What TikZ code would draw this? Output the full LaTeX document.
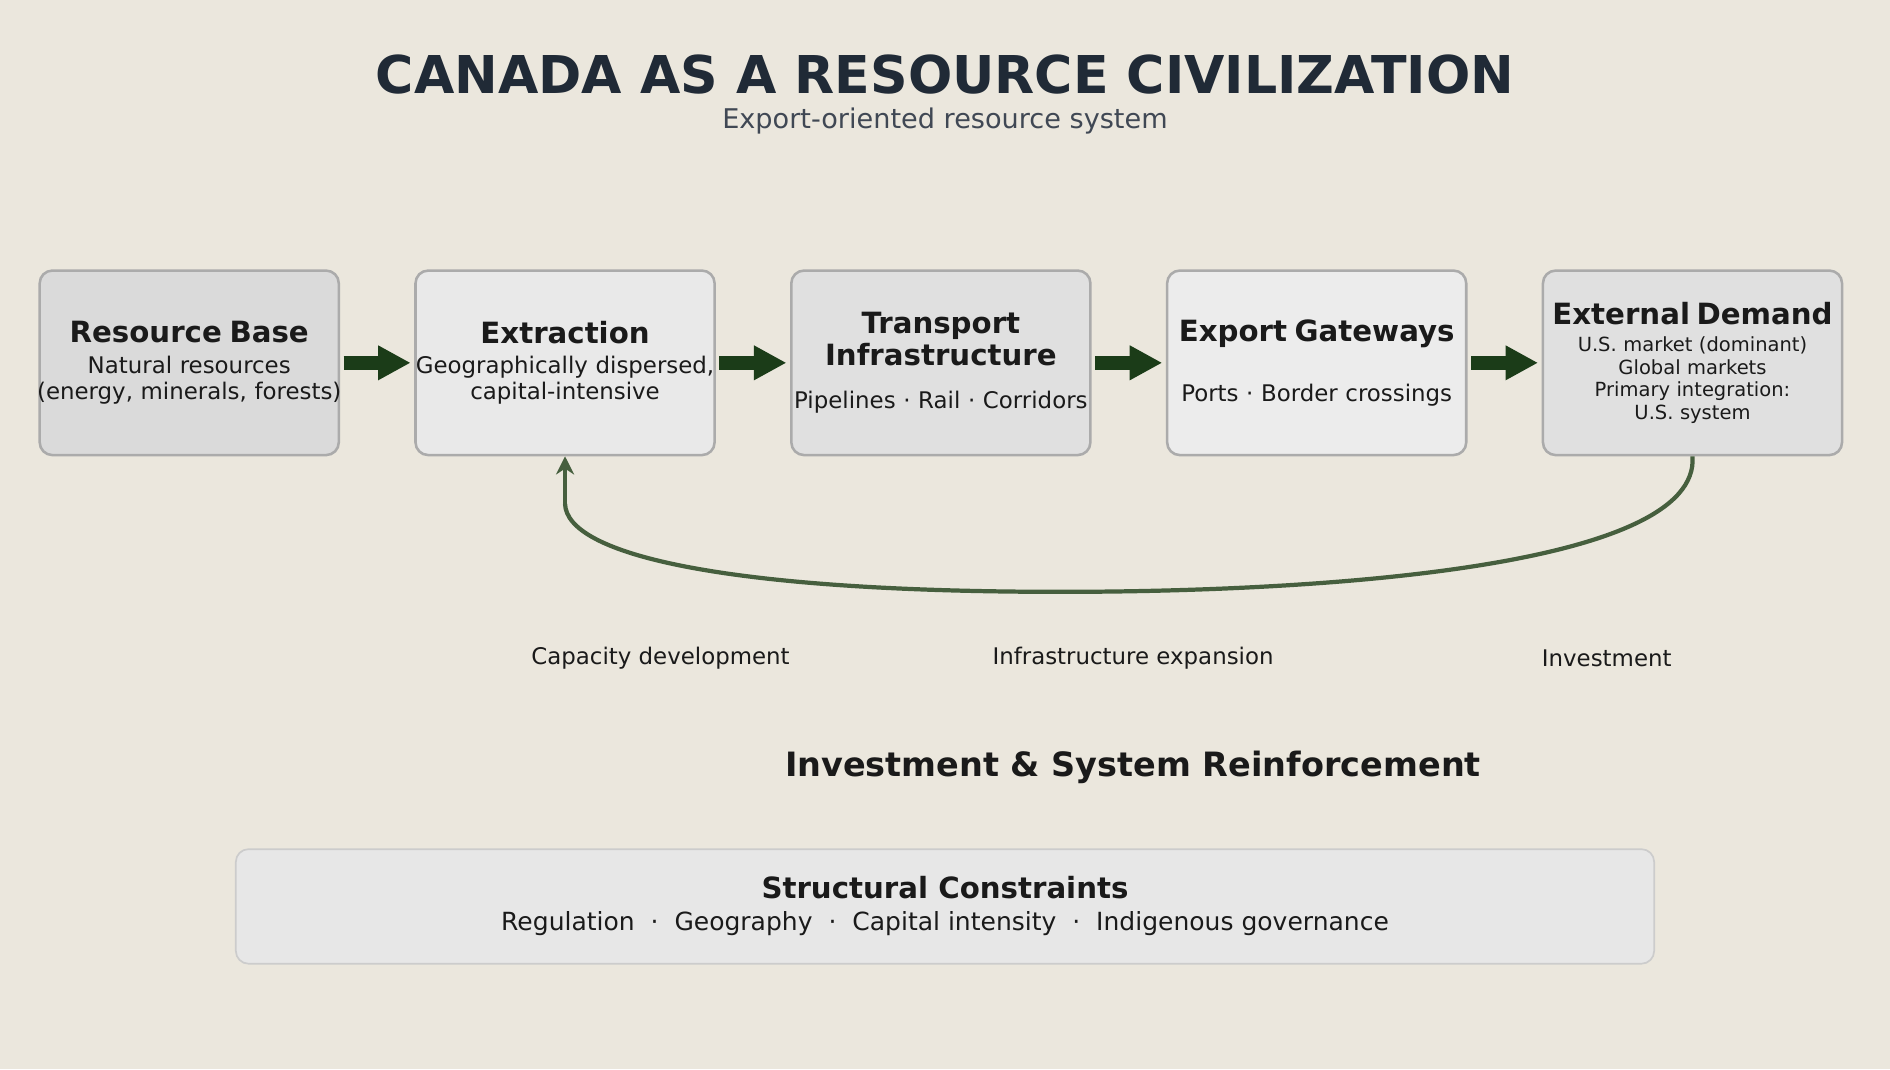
\documentclass[tikz,border=0pt]{standalone}
\usepackage{fontspec}
\setmainfont{DejaVu Sans}
\usetikzlibrary{positioning,arrows.meta}
\definecolor{bgpaper}{HTML}{EBE7DD}
\definecolor{titleink}{HTML}{202A36}
\definecolor{subink}{HTML}{404854}
\definecolor{boxline}{HTML}{ABABAB}
\definecolor{flowgreen}{HTML}{1B3C18}
\definecolor{loopgreen}{HTML}{465F3E}
\definecolor{ink}{HTML}{1A1A1A}
\tikzset{
  stagebox/.style={draw=boxline, line width=0.6pt, rounded corners=3pt, text width=2.62cm, inner xsep=-0.07cm, inner ysep=0pt, minimum height=1.53cm, align=center, text=ink, font=\fontsize{5.4}{6.2}\selectfont},
  flowarrow/.style={draw=flowgreen, line width=0.12cm, -{Triangle[length=0.27cm,width=0.27cm]}, shorten <=0.03cm, shorten >=0.03cm},
  looplabel/.style={font=\fontsize{5.4}{6.2}\selectfont, text=ink}
}
\newcommand{\boxhead}[1]{{\fontsize{6.9}{7.6}\selectfont\bfseries #1}}
\begin{document}
\begin{tikzpicture}[x=0.01cm, y=-0.01cm]
    \fill[bgpaper] (0,0) rectangle (1568,887);
    \useasboundingbox (0,0) rectangle (1568,887);

    % title
    \node (title) at (784,62) {\fontsize{12.3}{14}\selectfont\bfseries\color{titleink}CANADA AS A RESOURCE CIVILIZATION};
    \node (subtitle) at (784,100) {\fontsize{6.4}{8}\selectfont\color{subink}Export-oriented resource system};

    % stages
    \node[stagebox, fill={rgb,255:red,218;green,218;blue,218}] (base) at (157,301) {\boxhead{Resource Base}\\[1pt]Natural resources\\\mbox{(energy, minerals, forests)}};
    \node[stagebox, fill={rgb,255:red,233;green,233;blue,233}, right=0.615cm of base] (extract) {\boxhead{Extraction}\\[1pt]Geographically dispersed,\\capital-intensive};
    \node[stagebox, fill={rgb,255:red,224;green,224;blue,224}, right=0.615cm of extract] (transport) {\boxhead{Transport}\\\boxhead{Infrastructure}\\[4pt]Pipelines · Rail · Corridors};
    \node[stagebox, fill={rgb,255:red,236;green,236;blue,236}, right=0.615cm of transport] (gateway) {\boxhead{Export Gateways}\\[8pt]Ports · Border crossings};
    \node[stagebox, fill={rgb,255:red,224;green,224;blue,224}, right=0.615cm of gateway, font=\fontsize{4.6}{5.4}\selectfont] (demand) {\boxhead{External Demand}\\[1pt]U.S. market (dominant)\\Global markets\\Primary integration:\\U.S. system};

    \draw[flowarrow] (base) -- (extract);
    \draw[flowarrow] (extract) -- (transport);
    \draw[flowarrow] (transport) -- (gateway);
    \draw[flowarrow] (gateway) -- (demand);

    % feedback loop
    \coordinate (loopbottom) at (880,491);
    \coordinate (loopturn) at (extract.south |- 0,418);
    \draw[loopgreen, line width=0.035cm] (demand.south) .. controls (1411,470) and (1100,491) .. (loopbottom)
        .. controls (600,491) and (470,460) .. (loopturn);
    \draw[loopgreen, line width=0.035cm, -{Stealth[length=0.15cm,width=0.15cm]}] (loopturn) -- (extract.south);

    \node[looplabel] (lcap) at (548,546) {Capacity development};
    \node[looplabel] (linfra) at (940,546) {Infrastructure expansion};
    \node[looplabel] (linv) at (1333,546) {Investment};
    \node (loophead) at (940,637) {\fontsize{7.9}{9}\selectfont\bfseries\color{ink}Investment \& System Reinforcement};

    % constraints
    \node[draw={rgb,255:red,204;green,204;blue,204}, fill={rgb,255:red,231;green,231;blue,231}, rounded corners=3pt, minimum width=11.76cm, minimum height=0.95cm] (constraints) at (784,752) {};
    \node[text=ink] (conhead) at (784,736) {\boxhead{Structural Constraints}};
    \node[text=ink] (context) at (784,766) {\fontsize{5.9}{7}\selectfont Regulation~~·~~Geography~~·~~Capital intensity~~·~~Indigenous governance};
\end{tikzpicture}
\end{document}
